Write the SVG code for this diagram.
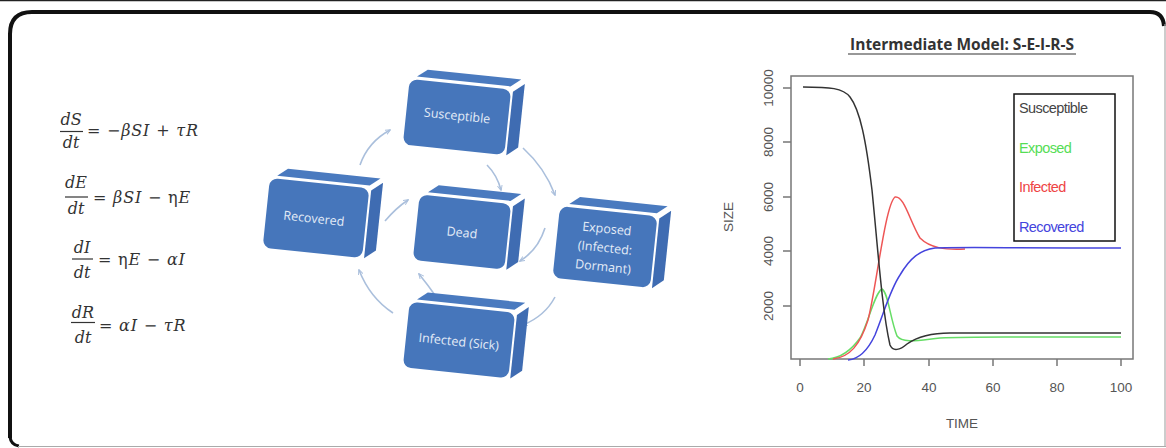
<svg xmlns="http://www.w3.org/2000/svg" width="1166" height="448" viewBox="0 0 1166 448">
<defs>
<style>
.eq{font-family:"DejaVu Serif",serif;font-size:16px;fill:#333;}
.rhs{letter-spacing:0.8px;}
.it{font-style:italic;}
.bar{stroke:#333;stroke-width:1.2;}
.front{fill:#4676bb;}
.side{fill:#3f6cb2;}
.top{fill:#4a7abf;}
.bt{font-family:"Open Sans",sans-serif;font-size:12.5px;fill:#e4ecf7;text-anchor:middle;}
.conn{fill:none;stroke:#aabfdc;stroke-width:1.6;marker-end:url(#ah);}
.ax{stroke:#777;stroke-width:1.5;fill:none;}
.tl{font-family:"Liberation Sans",sans-serif;font-size:13.5px;fill:#555;text-anchor:middle;}
.cv{fill:none;stroke-width:1.5;stroke-linejoin:round;}
.lg{font-family:"Liberation Sans",sans-serif;font-size:14.5px;letter-spacing:-0.6px;}
</style>
<marker id="ah" viewBox="0 0 10 10" refX="8" refY="5" markerWidth="6" markerHeight="6" orient="auto" markerUnits="userSpaceOnUse">
<path d="M0,1 L9,5 L0,9" fill="none" stroke="#aabfdc" stroke-width="1.6"/>
</marker>
</defs>
<rect width="1166" height="448" fill="#fff"/>
<line x1="0" y1="0.5" x2="1166" y2="0.5" stroke="#222" stroke-width="1.5"/>
<g id="frame">
<path d="M10,438 L10,34 Q10,12 32,12 L1150,12 Q1163,12 1164,26" fill="none" stroke="#111" stroke-width="4"/>
<path d="M10,437 Q11,445 19,446" fill="none" stroke="#111" stroke-width="3"/>
<line x1="1165" y1="24" x2="1165" y2="446" stroke="#aaa" stroke-width="1.2"/>
<line x1="18" y1="446.5" x2="1166" y2="446.5" stroke="#aaa" stroke-width="1.2"/>
</g>
<g id="equations">
<g id="eq1">
<text class="eq it" x="71" y="125" text-anchor="middle">dS</text>
<line class="bar" x1="60" y1="131.5" x2="83" y2="131.5"/>
<text class="eq it" x="71" y="148" text-anchor="middle">dt</text>
<text class="eq rhs" x="87" y="136">= −<tspan class="it">βSI</tspan> + <tspan class="it">τR</tspan></text>
</g>
<g id="eq2">
<text class="eq it" x="76" y="188" text-anchor="middle">dE</text>
<line class="bar" x1="65" y1="197" x2="88" y2="197"/>
<text class="eq it" x="76" y="214" text-anchor="middle">dt</text>
<text class="eq rhs" x="93" y="203">= <tspan class="it">βSI</tspan> − η<tspan class="it">E</tspan></text>
</g>
<g id="eq3">
<text class="eq it" x="82" y="253" text-anchor="middle">dI</text>
<line class="bar" x1="72" y1="259" x2="93" y2="259"/>
<text class="eq it" x="82" y="278" text-anchor="middle">dt</text>
<text class="eq rhs" x="98" y="265">= η<tspan class="it">E</tspan> − <tspan class="it">αI</tspan></text>
</g>
<g id="eq4">
<text class="eq it" x="83" y="318" text-anchor="middle">dR</text>
<line class="bar" x1="71" y1="322.5" x2="95" y2="322.5"/>
<text class="eq it" x="83" y="343" text-anchor="middle">dt</text>
<text class="eq rhs" x="99" y="331">= <tspan class="it">αI</tspan> − <tspan class="it">τR</tspan></text>
</g>
</g>
<g id="connectors">
<path class="conn" d="M360,165 Q368,142 390,130"/>
<path class="conn" d="M523,148 Q545,168 555,195"/>
<path class="conn" d="M487,165 Q497,175 501,190"/>
<path class="conn" d="M555,297 Q545,316 523,325"/>
<path class="conn" d="M545,228 Q538,250 520,261"/>
<path class="conn" d="M393,313 Q370,298 359,270"/>
<path class="conn" d="M437,298 Q428,285 419,274"/>
<path class="conn" d="M385,221 Q396,208 408,200"/>
</g>
<g id="susceptible" transform="translate(457,117) rotate(6)">
<path class="top" d="M-44,-36 L-34,-44 L60,-44 L50,-36 Z"/>
<path class="side" d="M53,-31 L64,-40 L64,24 L53,33 Z"/>
<rect class="front" x="-51" y="-33" width="102" height="66" rx="8"/>
<text class="bt" x="0" y="3">Susceptible</text>
</g>
<g id="recovered" transform="translate(316,218) rotate(6)">
<path class="top" d="M-43,-38 L-33,-46 L60,-46 L50,-38 Z"/>
<path class="side" d="M52,-33 L63,-42 L63,26 L52,35 Z"/>
<rect class="front" x="-50" y="-35" width="100" height="70" rx="8"/>
<text class="bt" x="-2" y="5">Recovered</text>
</g>
<g id="dead" transform="translate(462,232) rotate(6)">
<path class="top" d="M-38,-36 L-28,-44 L55,-44 L45,-36 Z"/>
<path class="side" d="M48,-31 L59,-40 L59,24 L48,33 Z"/>
<rect class="front" x="-46" y="-33" width="92" height="66" rx="8"/>
<text class="bt" x="0" y="5">Dead</text>
</g>
<g id="exposed" transform="translate(605,247) rotate(6)">
<path class="top" d="M-40,-39 L-30,-47 L58,-47 L48,-39 Z"/>
<path class="side" d="M51,-34 L62,-43 L62,27 L51,36 Z"/>
<rect class="front" x="-49" y="-36" width="98" height="72" rx="8"/>
<text class="bt" x="0" y="-14">Exposed</text>
<text class="bt" x="0" y="5">(Infected:</text>
<text class="bt" x="0" y="24">Dormant)</text>
</g>
<g id="infected" transform="translate(459,340) rotate(6)">
<path class="top" d="M-46,-36 L-36,-44 L62,-44 L52,-36 Z"/>
<path class="side" d="M55,-31 L66,-40 L66,24 L55,33 Z"/>
<rect class="front" x="-53" y="-33" width="106" height="66" rx="8"/>
<text class="bt" x="0" y="6">Infected (Sick)</text>
</g>
<g id="chart">
<text x="962" y="50" font-family="'Open Sans',sans-serif" font-weight="bold" font-size="15.5px" fill="#333" text-anchor="middle">Intermediate Model: S-E-I-R-S</text>
<line x1="848" y1="54" x2="1076" y2="54" stroke="#333" stroke-width="1.2"/>
<rect class="ax" x="791" y="76" width="342" height="283"/>
<g class="ax">
<path d="M800,359 v7 M864,359 v7 M929,359 v7 M993,359 v7 M1057,359 v7 M1121,359 v7"/>
<path d="M791,88 h-8 M791,142 h-8 M791,197 h-8 M791,251 h-8 M791,306 h-8"/>
</g>
<g class="tl">
<text x="800" y="392">0</text>
<text x="864" y="392">20</text>
<text x="929" y="392">40</text>
<text x="993" y="392">60</text>
<text x="1057" y="392">80</text>
<text x="1121" y="392">100</text>
<text x="962" y="428">TIME</text>
<text transform="translate(773,88) rotate(-90)">10000</text>
<text transform="translate(773,142) rotate(-90)">8000</text>
<text transform="translate(773,197) rotate(-90)">6000</text>
<text transform="translate(773,251) rotate(-90)">4000</text>
<text transform="translate(773,306) rotate(-90)">2000</text>
<text transform="translate(733,217) rotate(-90)">SIZE</text>
</g>
<path class="cv" stroke="#66dd66" d="M828,359 C840,358 850,352 860,338 C868,324 875,292 882,289 C888,292 890,318 897,336 C903,344 920,340 940,338 C960,337 985,337 1005,337 L1121,337"/>
<path class="cv" stroke="#ee5555" d="M833,359 C850,357 860,345 868,320 C876,290 885,205 895,197 C904,195 910,222 920,238 C930,248 945,250 965,249"/>
<path class="cv" stroke="#4444dd" d="M848,360 C860,359 868,350 875,335 C885,310 890,290 900,275 C910,258 920,250 935,248 C960,247 1000,248 1121,248"/>
<path class="cv" stroke="#333" d="M803,87 C830,87 843,88 850,97 C860,110 866,140 872,190 C878,250 882,310 890,345 C893,352 900,350 907,344 C920,335 935,333 950,333 L1121,333"/>
<rect x="1014" y="94" width="101" height="147" fill="none" stroke="#111" stroke-width="1.5"/>
<text class="lg" x="1019" y="113" fill="#444">Susceptible</text>
<text class="lg" x="1019" y="153" fill="#55dd55">Exposed</text>
<text class="lg" x="1019" y="192" fill="#ee4444">Infected</text>
<text class="lg" x="1019" y="232" fill="#4444dd">Recovered</text>
</g>
</svg>
